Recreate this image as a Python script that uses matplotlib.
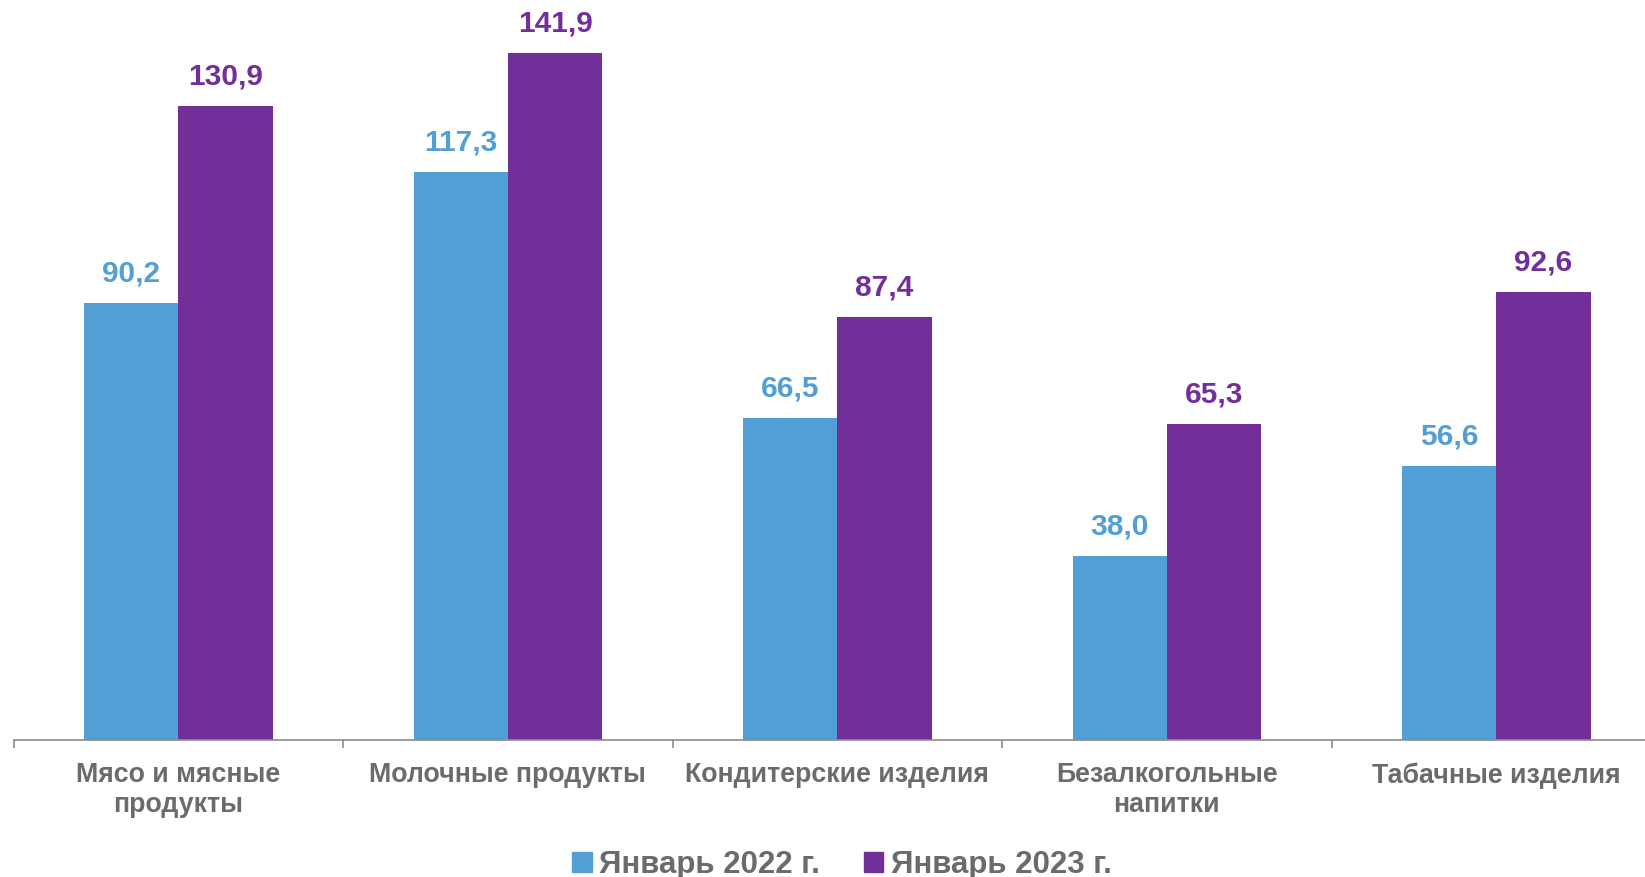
import numpy as np
import matplotlib
matplotlib.use("Agg")
import matplotlib.pyplot as plt
from matplotlib.patches import Patch

plt.rcParams['font.family'] = ['Liberation Sans', 'DejaVu Sans']
plt.rcParams['font.weight'] = 'bold'

# data
categories = ["Мясо и мясные\nпродукты", "Молочные продукты", "Кондитерские изделия",
              "Безалкогольные\nнапитки", "Табачные изделия"]
series_names = ["Январь 2022 г.", "Январь 2023 г."]
jan_2022 = [90.2, 117.3, 66.5, 38.0, 56.6]
jan_2023 = [130.9, 141.9, 87.4, 65.3, 92.6]

blue = '#529FD6'
purple = '#722F99'
grey = '#6B6B6B'

fig = plt.figure(figsize=(16.45, 8.77), dpi=100)
ax = fig.add_axes([0.0083, 0.1562, 1.0015, 0.8438])

x = np.arange(len(categories))
w = 0.286
b1 = ax.bar(x - w / 2, jan_2022, w, color=blue)
b2 = ax.bar(x + w / 2, jan_2023, w, color=purple)

# value labels above bars
for bars, vals, col in [(b1, jan_2022, blue), (b2, jan_2023, purple)]:
    for rect, v in zip(bars, vals):
        ax.annotate(f"{v:.1f}".replace('.', ','),
                    (rect.get_x() + rect.get_width() / 2, rect.get_height()),
                    xytext=(0, 11), textcoords='offset points',
                    ha='center', va='bottom', fontsize=21.5, fontweight='bold', color=col)

ax.set_xlim(-0.5, len(categories) - 0.5)
ax.set_ylim(0, 152.8)

for s in ['top', 'right', 'left']:
    ax.spines[s].set_visible(False)
ax.spines['bottom'].set_color('#8C8C8C')
ax.spines['bottom'].set_linewidth(1.2)
ax.set_yticks([])

# category boundary ticks, labels in the middle
ax.set_xticks(np.arange(-0.5, len(categories), 1.0))
ax.set_xticklabels([])
ax.tick_params(axis='x', which='major', direction='out', length=6, width=1.2, color='#8C8C8C')
ax.set_xticks(x, minor=True)
ax.set_xticklabels(categories, minor=True, fontsize=19.3, fontweight='bold', color=grey,
                   linespacing=1.2, va='top')
ax.tick_params(axis='x', which='minor', length=0, pad=16)

handles = [Patch(color=blue), Patch(color=purple)]
leg = fig.legend(handles, series_names, loc='center', bbox_to_anchor=(0.512, 0.014),
                 ncol=2, frameon=False, fontsize=22.5, handlelength=0.62, handleheight=0.62,
                 handletextpad=0.25, columnspacing=1.4, borderaxespad=0)
for t in leg.get_texts():
    t.set_color(grey)
    t.set_fontweight('bold')

fig.savefig('out.png', dpi=100)
